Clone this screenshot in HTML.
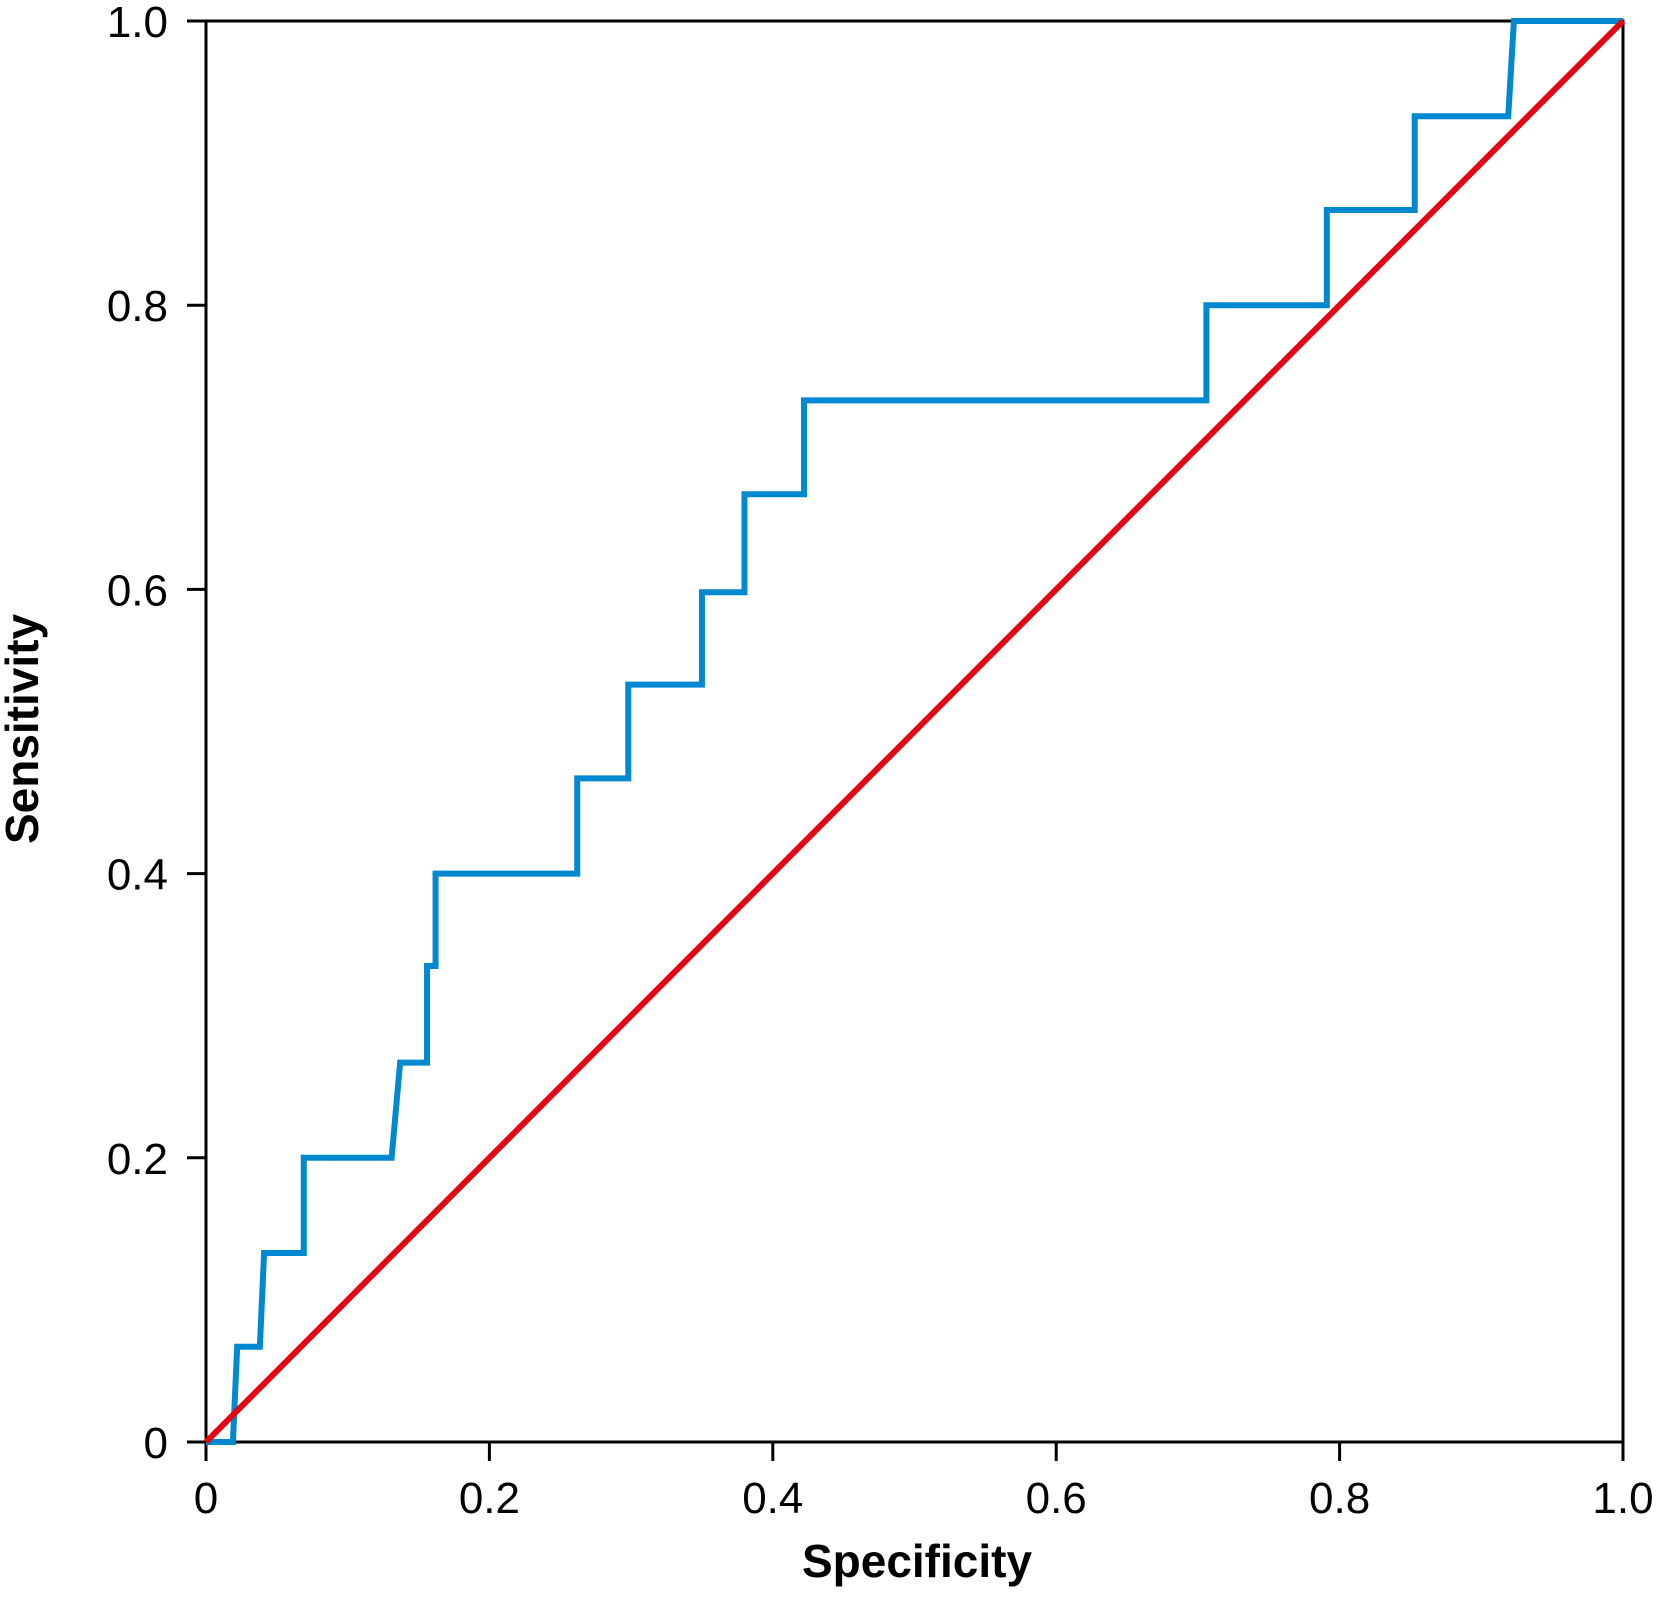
<!DOCTYPE html>
<html><head><meta charset="utf-8"><style>
html,body{margin:0;padding:0;background:#fff}
svg text{font-family:"Liberation Sans","DejaVu Sans",sans-serif}
</style></head><body>
<svg id="chart" width="1656" height="1594" viewBox="0 0 1656 1594" xmlns="http://www.w3.org/2000/svg"></svg>
<script>
const xTicks = [0, 0.2, 0.4, 0.6, 0.8, 1.0];
const xTickLabels = ["0", "0.2", "0.4", "0.6", "0.8", "1.0"];
const yTicks = [0, 0.2, 0.4, 0.6, 0.8, 1.0];
const yTickLabels = ["0", "0.2", "0.4", "0.6", "0.8", "1.0"];
const rocX = [0,0.019,0.022,0.038,0.041,0.069,0.069,0.131,0.137,0.156,0.156,0.162,0.162,0.262,0.262,0.298,0.298,0.350,0.350,0.380,0.380,0.422,0.422,0.706,0.706,0.791,0.791,0.853,0.853,0.919,0.923,1.0];
const rocY = [0,0,0.067,0.067,0.133,0.133,0.2,0.2,0.267,0.267,0.335,0.335,0.4,0.4,0.467,0.467,0.533,0.533,0.598,0.598,0.667,0.667,0.733,0.733,0.8,0.8,0.867,0.867,0.933,0.933,1.0,1.0];
const refX = [0, 1];
const refY = [0, 1];

const NS = "http://www.w3.org/2000/svg";
const svg = document.getElementById("chart");
const X0 = 206, X1 = 1623, Y0 = 1442, Y1 = 21;
const sx = v => X0 + v * (X1 - X0);
const sy = v => Y0 - v * (Y0 - Y1);
function mk(tag, attrs, parent) {
  const e = document.createElementNS(NS, tag);
  for (const k in attrs) e.setAttribute(k, attrs[k]);
  (parent || svg).appendChild(e);
  return e;
}
const frame = mk("rect", {x: X0, y: Y1, width: X1 - X0, height: Y0 - Y1, fill: "none", stroke: "#000", "stroke-width": 3});


xTicks.forEach((t, i) => {
  const l = mk("line", {x1: sx(t), x2: sx(t), y1: Y0, y2: Y0 + 19, stroke: "#000", "stroke-width": 3});
  
  
  const tx = mk("text", {x: sx(t), y: 1513, "font-size": 44, "text-anchor": "middle", fill: "#000"});
  tx.textContent = xTickLabels[i];
  
  
});
yTicks.forEach((t, i) => {
  const l = mk("line", {x1: X0 - 19, x2: X0, y1: sy(t), y2: sy(t), stroke: "#000", "stroke-width": 3});
  
  
  const tx = mk("text", {x: 168, y: sy(t) + 16, "font-size": 44, "text-anchor": "end", fill: "#000"});
  tx.textContent = yTickLabels[i];
  
  
});
const ref = mk("line", {x1: sx(refX[0]), y1: sy(refY[0]), x2: sx(refX[1]), y2: sy(refY[1]), stroke: "#e30613", "stroke-width": 6});


const pts = rocX.map((v, i) => sx(v) + "," + sy(rocY[i])).join(" ");
const roc = mk("polyline", {points: pts, fill: "none", stroke: "#0088d1", "stroke-width": 6, "stroke-linejoin": "miter"});


svg.appendChild(ref);
const xt = mk("text", {x: 917, y: 1577, "font-size": 46, "font-weight": "bold", "text-anchor": "middle", fill: "#000"});
xt.textContent = "Specificity";


const yt = mk("text", {x: 0, y: 0, "font-size": 46, "font-weight": "bold", "text-anchor": "middle", fill: "#000", transform: "translate(38,729) rotate(-90)"});
yt.textContent = "Sensitivity";


</script>
</body></html>
